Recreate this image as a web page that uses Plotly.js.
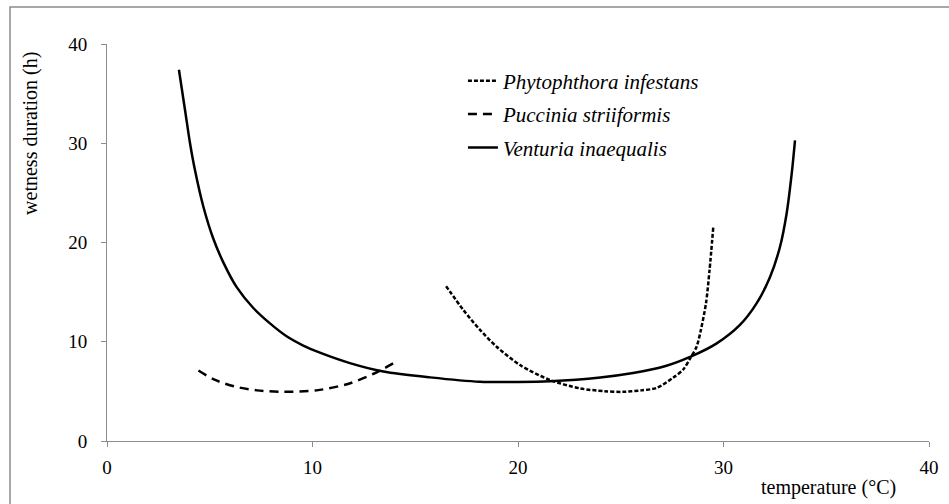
<!DOCTYPE html>
<html>
<head>
<meta charset="utf-8">
<script src="https://cdn.plot.ly/plotly-3.0.1.min.js"></script>
<style>
  html, body { margin: 0; padding: 0; background: #fff; }
  #chart { width: 949px; height: 504px; }
</style>
</head>
<body>
<div id="chart"></div>
<script>
// Minimum wetness duration required for infection versus temperature
const seriesNames = ["Phytophthora infestans", "Puccinia striiformis", "Venturia inaequalis"];

const phytoTemp = [16.5, 17.34, 18.15, 18.96, 20.1, 21.56, 23.02, 24.2, 25.1, 26.0, 26.75, 27.56, 28.04, 28.37, 28.69, 28.9, 29.15, 29.32, 29.5];
const phytoHours = [15.6, 13.2, 11.2, 9.5, 7.65, 6.14, 5.3, 5.02, 4.95, 5.1, 5.35, 6.4, 7.2, 8.3, 9.5, 11.2, 13.9, 17.2, 21.5];

const pucciniaTemp = [4.45, 5.2, 6.2, 7.3, 8.6, 10.2, 11.8, 13.0, 14.0];
const pucciniaHours = [7.1, 6.2, 5.5, 5.1, 4.95, 5.1, 5.8, 6.8, 7.9];

const venturiaTemp = [3.5, 3.8, 4.04, 4.28, 4.69, 5.17, 5.66, 6.31, 7.12, 7.93, 8.74, 9.55, 10.36, 11.82, 13.45, 15.72, 18.15, 20.0, 21.56, 24.0, 25.6, 27.1, 28.4, 29.67, 30.8, 31.61, 32.26, 32.75, 33.07, 33.32, 33.48];
const venturiaHours = [37.4, 33.3, 30.0, 27.3, 23.6, 20.4, 18.0, 15.5, 13.4, 11.85, 10.55, 9.62, 8.9, 7.85, 7.0, 6.41, 5.97, 5.95, 6.02, 6.4, 6.85, 7.5, 8.5, 9.84, 11.7, 13.87, 16.5, 19.57, 22.9, 26.96, 30.3];

const tickVals = [0, 10, 20, 30, 40];
const tickText = ["0", "10", "20", "30", "40"];

const serif = "Liberation Serif";

function curve(name, x, y, dash) {
  return {
    type: "scatter", mode: "lines", name: "<i>" + name + "</i>",
    x: x, y: y, legendgroup: name,
    line: { color: "#000", width: 2.5, dash: dash, shape: "spline", smoothing: 0.8 }
  };
}

const traces = [
  curve(seriesNames[0], phytoTemp, phytoHours, "4px,2px"),
  curve(seriesNames[1], pucciniaTemp, pucciniaHours, "9px,6px"),
  curve(seriesNames[2], venturiaTemp, venturiaHours, "solid")
];

const axisCommon = {
  showgrid: false, zeroline: false, showline: true,
  linecolor: "#8c8c8c", linewidth: 1,
  ticks: "outside", ticklen: 5, tickcolor: "#8c8c8c", tickwidth: 1,
  tickfont: { family: serif, size: 19, color: "#000" },
  fixedrange: true
};

const layout = {
  width: 949, height: 504,
  margin: { l: 107, r: 20, t: 44, b: 63 },
  paper_bgcolor: "#fff", plot_bgcolor: "#fff",
  font: { family: serif },
  showlegend: true,
  legend: {
    x: 0.433, y: 0.958, xanchor: "left", yanchor: "top",
    traceorder: "grouped", tracegroupgap: 3,
    font: { family: serif, size: 21, color: "#000" },
    bgcolor: "rgba(0,0,0,0)"
  },
  xaxis: Object.assign({}, axisCommon, {
    range: [0, 40], tickvals: tickVals, ticktext: tickText, ticklabelstandoff: 4
  }),
  yaxis: Object.assign({}, axisCommon, {
    range: [0, 40], tickvals: tickVals, ticktext: tickText, ticklabelstandoff: 10
  }),
  annotations: [
    {
      text: "wetness duration (h)", xref: "paper", yref: "paper",
      x: -0.093, y: 0.775, xanchor: "center", yanchor: "middle",
      textangle: -90, showarrow: false,
      font: { family: serif, size: 20, color: "#000" }
    },
    {
      text: "temperature (°C)", xref: "paper", yref: "paper",
      x: 0.878, y: -0.118, xanchor: "center", yanchor: "middle",
      showarrow: false,
      font: { family: serif, size: 20, color: "#000" }
    }
  ],
  shapes: [
    {
      type: "rect", xref: "paper", yref: "paper",
      x0: -0.118, x1: 1.2, y0: -0.3, y1: 1.093,
      line: { color: "#8c8c8c", width: 1.5 }, fillcolor: "rgba(0,0,0,0)", layer: "below"
    }
  ]
};

Plotly.newPlot("chart", traces, layout, { displayModeBar: false, staticPlot: true });
</script>
</body>
</html>
